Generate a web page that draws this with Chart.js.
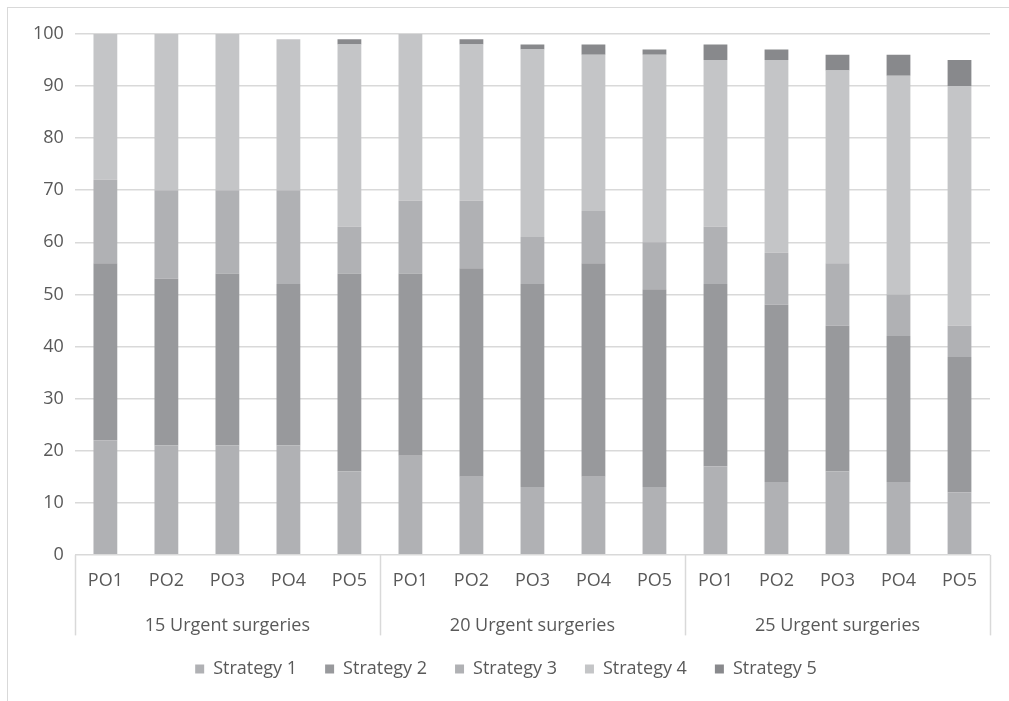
<!DOCTYPE html>
<html>
<head>
<meta charset="utf-8">
<script src="https://cdn.jsdelivr.net/npm/chart.js@4"></script>
<style>
  html, body { margin: 0; padding: 0; background: #fff; overflow: hidden; }
  #wrap { position: absolute; left: 0; top: 0; width: 1009px; height: 701px; }
  #frame { position: absolute; left: 7px; top: 7px; width: 1100px; height: 800px;
           border-top: 1.5px solid #d9d9d9; border-left: 1.5px solid #d9d9d9; }
  canvas { position: absolute; left: 0; top: 0; }
</style>
</head>
<body>
<div id="wrap">
  <div id="frame"></div>
  <canvas id="stackChart" width="1009" height="701"></canvas>
</div>
<script>
  // categories
  const orders = ["PO1", "PO2", "PO3", "PO4", "PO5",
                  "PO1", "PO2", "PO3", "PO4", "PO5",
                  "PO1", "PO2", "PO3", "PO4", "PO5"];
  const groups = ["15 Urgent surgeries", "20 Urgent surgeries", "25 Urgent surgeries"];

  // series values
  const strategy1 = [22, 21, 21, 21, 16, 19, 15, 13, 15, 13, 17, 14, 16, 14, 12];
  const strategy2 = [34, 32, 33, 31, 38, 35, 40, 39, 41, 38, 35, 34, 28, 28, 26];
  const strategy3 = [16, 17, 16, 18, 9, 14, 13, 9, 10, 9, 11, 10, 12, 8, 6];
  const strategy4 = [28, 30, 30, 29, 35, 32, 30, 36, 30, 36, 32, 37, 37, 42, 46];
  const strategy5 = [0, 0, 0, 0, 1, 0, 1, 1, 2, 1, 3, 2, 3, 4, 5];

  const yTicks = [0, 10, 20, 30, 40, 50, 60, 70, 80, 90, 100];

  const textColor = "#595959";
  const gridColor = "#d9d9d9";
  const fontFamily = "'Open Sans', 'Liberation Sans', sans-serif";

  // separator lines between the groups, running through both label rows
  const groupLines = {
    id: "groupLines",
    afterDraw(chart) {
      const x2 = chart.scales.x2;
      const ctx = chart.ctx;
      const top = chart.chartArea.bottom;
      const bottom = x2.top + 37;
      ctx.save();
      ctx.strokeStyle = gridColor;
      ctx.lineWidth = 1.5;
      for (let i = 0; i <= groups.length; i++) {
        const x = Math.round(x2.left + i * x2.width / groups.length) + 0.5;
        ctx.beginPath();
        ctx.moveTo(x, top);
        ctx.lineTo(x, bottom);
        ctx.stroke();
      }
      ctx.restore();
    }
  };

  const ctx = document.getElementById("stackChart").getContext("2d");

  function ds(label, data, color) {
    return {
      label: label,
      data: data,
      backgroundColor: color,
      borderWidth: 0,
      categoryPercentage: 1,
      barPercentage: 0.39,
      xAxisID: "x",
    };
  }

  new Chart(ctx, {
    type: "bar",
    data: {
      labels: orders,
      datasets: [
        ds("Strategy 1", strategy1, "#b0b1b4"),
        ds("Strategy 2", strategy2, "#98999c"),
        ds("Strategy 3", strategy3, "#b0b1b4"),
        ds("Strategy 4", strategy4, "#c4c5c7"),
        ds("Strategy 5", strategy5, "#88898c"),
      ],
    },
    options: {
      responsive: false,
      animation: false,
      layout: { padding: { left: 22, right: 19, top: 34, bottom: 13 } },
      plugins: {
        tooltip: { enabled: false },
        legend: {
          position: "bottom",
          labels: {
            boxWidth: 9,
            boxHeight: 9,
            padding: 28,
            color: textColor,
            font: { family: fontFamily, size: 18 },
          },
        },
      },
      scales: {
        x: {
          stacked: true,
          grid: { display: false },
          border: { display: false },
          ticks: {
            color: textColor,
            font: { family: fontFamily, size: 18 },
            padding: 7,
            maxRotation: 0,
            autoSkip: false,
          },
        },
        x2: {
          type: "category",
          labels: groups,
          position: "bottom",
          offset: true,
          grid: { display: false },
          border: { display: false },
          afterFit: (scale) => {
            scale.height -= 14;
            // don't clip the labels to the shortened axis box
            scale._computeLabelArea = () => undefined;
          },
          ticks: {
            color: textColor,
            font: { family: fontFamily, size: 18 },
            padding: 9,
            maxRotation: 0,
          },
        },
        y: {
          stacked: true,
          min: 0,
          max: 100,
          afterBuildTicks: (scale) => {
            scale.ticks = yTicks.map((v) => ({ value: v }));
          },
          grid: { color: gridColor, lineWidth: 1.5, drawTicks: false },
          border: { display: false },
          ticks: {
            color: textColor,
            font: { family: fontFamily, size: 18 },
            padding: 11,
          },
        },
      },
    },
    plugins: [groupLines],
  });
</script>
</body>
</html>
